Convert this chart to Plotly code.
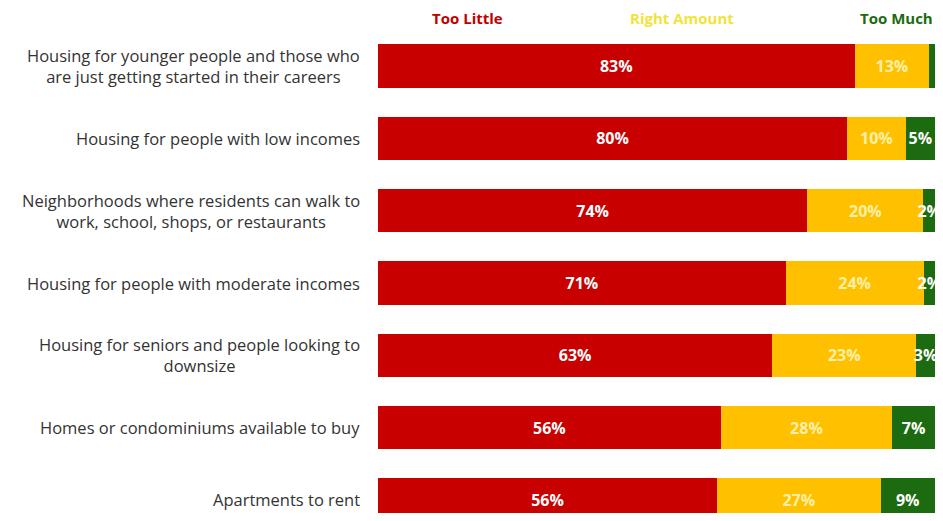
import plotly.graph_objects as go

categories = [
    "Housing for younger people and those who<br>are just getting started in their careers",
    "Housing for people with low incomes",
    "Neighborhoods where residents can walk to<br>work, school, shops, or restaurants",
    "Housing for people with moderate incomes",
    "Housing for seniors and people looking to<br>downsize",
    "Homes or condominiums available to buy",
    "Apartments to rent",
]
too_little = [83, 80, 74, 71, 63, 56, 56]
right_amount = [13, 10, 20, 24, 23, 28, 27]
too_much = [1, 5, 2, 2, 3, 7, 9]
series_names = ["Too Little", "Right Amount", "Too Much"]

RED = "#C80000"
YELLOW = "#FFC000"
GREEN = "#1C6B10"

fig = go.Figure()
for name, vals, color, tcolor in [
    (series_names[0], too_little, RED, "white"),
    (series_names[1], right_amount, YELLOW, "#FFF0A8"),
    (series_names[2], too_much, GREEN, "white"),
]:
    fig.add_trace(go.Bar(
        y=categories, x=vals, orientation="h", name=name,
        marker=dict(color=color, line=dict(width=0)),
        text=[f"<b>{v}%</b>" if v >= 2 else "" for v in vals],
        textposition="inside", insidetextanchor="middle", textangle=0,
        textfont=dict(color=tcolor, size=16, family="Open Sans"),
        constraintext="none",
        hoverinfo="skip",
    ))

fig.update_layout(
    barmode="stack", barnorm="percent", bargap=0.4,
    width=927, height=505,
    margin=dict(l=370, r=0, t=22, b=0),
    plot_bgcolor="white", paper_bgcolor="white",
    showlegend=False,
    uniformtext=dict(minsize=16, mode="show"),
    font=dict(family="Open Sans", size=16, color="#333333"),
)
fig.update_xaxes(range=[0, 100], visible=False, fixedrange=True)
fig.update_yaxes(autorange=False, range=[6.18, -0.5], showgrid=False,
                 ticks="", showline=False, showticklabels=False)

# category labels, centred per line, right-aligned block next to the axis
for cat in categories:
    fig.add_annotation(text=cat, x=0, y=cat, xref="paper", yref="y",
                       showarrow=False, xanchor="right", yanchor="middle",
                       align="center", xshift=-16,
                       font=dict(size=16.5, color="#333333", family="Open Sans"))

headers = [(series_names[0], 0.16, "center", "#C00000"),
           (series_names[1], 0.545, "center", "#F2E33A"),
           (series_names[2], 1.0, "right", "#1C6B10")]
for txt, xp, anc, col in headers:
    fig.add_annotation(text=f"<b>{txt}</b>", x=xp, y=1.025, xref="paper", yref="paper",
                       showarrow=False, xanchor=anc, yanchor="middle",
                       font=dict(size=15, color=col, family="Open Sans"))

fig.write_html("out.html")
